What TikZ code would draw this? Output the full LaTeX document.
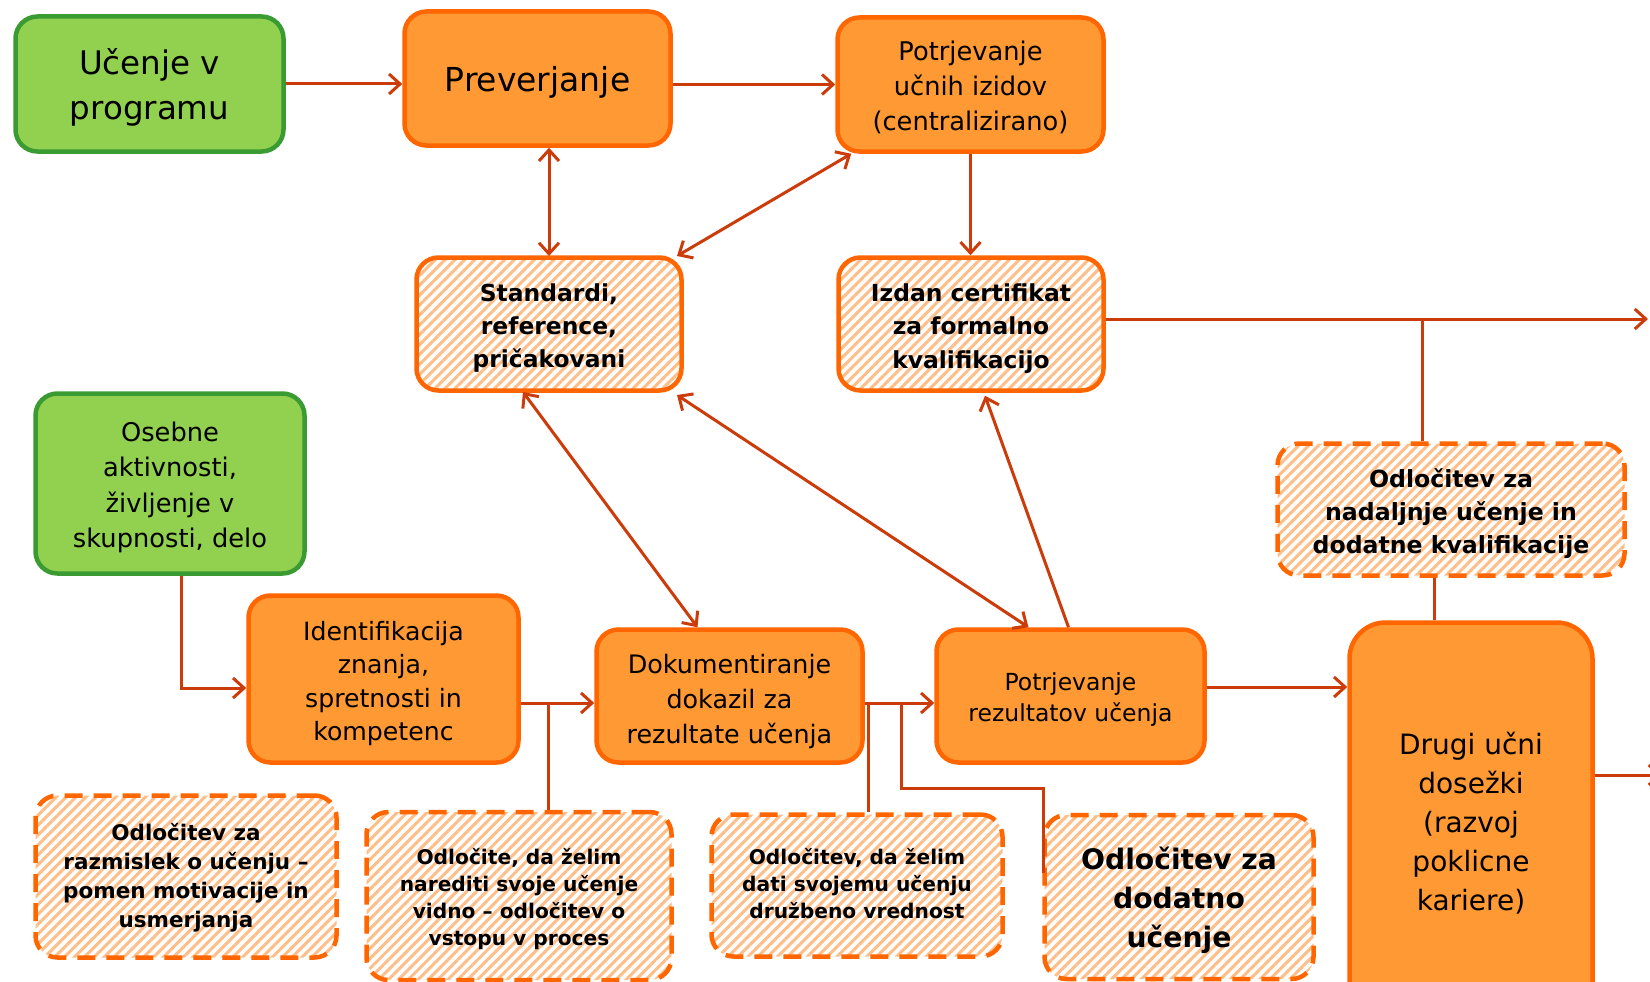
\documentclass[tikz,border=0pt]{standalone}
\usepackage{fontspec}
\setmainfont{DejaVu Sans}
\usetikzlibrary{arrows.meta,patterns.meta,calc}
\definecolor{ofill}{RGB}{255,153,51}
\definecolor{oborder}{RGB}{255,102,0}
\definecolor{gfill}{RGB}{146,208,80}
\definecolor{gborder}{RGB}{58,155,50}
\definecolor{linec}{RGB}{204,60,10}
\definecolor{hatchc}{RGB}{255,190,135}
\newcommand{\txtl}[2][4pt]{\raisebox{-#1}[\height][\depth]{\begin{tabular}{@{}c@{}}#2\end{tabular}}}
\tikzset{
  basebox/.style={line width=4.5pt, rounded corners=22pt, inner sep=0pt, align=center, text=black},
  gbox/.style={basebox, draw=gborder, fill=gfill},
  obox/.style={basebox, draw=oborder, fill=ofill},
  hbox/.style={basebox, draw=oborder, preaction={fill=white},
    pattern={Lines[angle=45,distance=7pt,line width=3pt]}, pattern color=hatchc},
  dbox/.style={hbox, dash pattern=on 18pt off 11pt},
  conn/.style={draw=linec, line width=3pt},
  tipb/.tip={Straight Barb[length=11pt,width=20pt,line width=3pt]},
  arr/.style={conn, -tipb},
  darr/.style={conn, tipb-tipb},
}
\begin{document}
\begin{tikzpicture}[x=1pt,y=-1pt]
\useasboundingbox (0,0) rectangle (1650,982);
\clip (0,0) rectangle (1650,982);

% top row
\node[gbox, minimum width=268, minimum height=135, font=\fontsize{32.5}{45}\selectfont] (ucenje) at (149.5,84) {\txtl{Učenje v\\programu}};
\node[obox, minimum width=266, minimum height=134, font=\fontsize{33}{45}\selectfont] (prever) at (537.5,78.5) {\txtl{Preverjanje}};
\node[obox, minimum width=266, minimum height=134, font=\fontsize{25.7}{35}\selectfont] (potrizid) at (970.5,84.5) {\txtl{Potrjevanje\\učnih izidov\\(centralizirano)}};

% second row
\node[hbox, minimum width=265, minimum height=133, font=\bfseries\fontsize{23.4}{33}\selectfont] (standard) at (549,324) {\txtl{Standardi,\\reference,\\pričakovani}};
\node[hbox, minimum width=265, minimum height=133, font=\bfseries\fontsize{23.4}{33.5}\selectfont] (izdan) at (971,324) {\txtl{Izdan certifikat\\za formalno\\kvalifikacijo}};

% left green
\node[gbox, minimum width=269, minimum height=180, font=\fontsize{25.7}{35.5}\selectfont] (osebne) at (170,483.5) {\txtl{Osebne\\aktivnosti,\\življenje v\\skupnosti, delo}};

% decision right
\node[dbox, minimum width=347, minimum height=132, font=\bfseries\fontsize{23.6}{33}\selectfont] (nadalj) at (1451,509.5) {\txtl{Odločitev za\\nadaljnje učenje in\\dodatne kvalifikacije}};

% process row
\node[obox, minimum width=270, minimum height=167, font=\fontsize{25.2}{33.5}\selectfont] (ident) at (383.5,679) {\txtl[5pt]{Identifikacija\\znanja,\\spretnosti in\\kompetenc}};
\node[obox, minimum width=266, minimum height=133, font=\fontsize{25.4}{35}\selectfont] (dokum) at (729.5,696) {\txtl[5pt]{Dokumentiranje\\dokazil za\\rezultate učenja}};
\node[obox, minimum width=268, minimum height=133, font=\fontsize{23.5}{31}\selectfont] (potrrez) at (1070.5,696) {\txtl{Potrjevanje\\rezultatov učenja}};
\node[obox, rounded corners=36pt, minimum width=243, minimum height=401, font=\fontsize{28}{39}\selectfont] (drugi) at (1471,823) {\txtl[2pt]{Drugi učni\\dosežki\\(razvoj\\poklicne\\kariere)}};

% bottom decisions
\node[dbox, minimum width=301, minimum height=162, font=\bfseries\fontsize{21.5}{29}\selectfont] (razmis) at (186,876.5) {\txtl[2pt]{Odločitev za\\razmislek o učenju –\\pomen motivacije in\\usmerjanja}};
\node[dbox, minimum width=305, minimum height=168, font=\bfseries\fontsize{20.2}{27}\selectfont] (odlocite) at (519,896) {\txtl{Odločite, da želim\\narediti svoje učenje\\vidno – odločitev o\\vstopu v proces}};
\node[dbox, minimum width=291, minimum height=142, font=\bfseries\fontsize{20.2}{27}\selectfont] (dati) at (857,885.5) {\txtl[1pt]{Odločitev, da želim\\dati svojemu učenju\\družbeno vrednost}};
\node[dbox, minimum width=269, minimum height=164, font=\bfseries\fontsize{28.2}{39}\selectfont] (dodatno) at (1179,897) {\txtl{Odločitev za\\dodatno\\učenje}};

% junction coordinates
\coordinate (j1) at (181,688);
\coordinate (j2) at (548,703);
\coordinate (j3) at (868,703);
\coordinate (j4) at (901,703);
\coordinate (j5) at (1043,788);
\coordinate (j6) at (1043,873);
\coordinate (j7) at (1422,319);
\coordinate (endA) at (1648,319);
\coordinate (endB) at (1662,775);

% top connectors
\draw[arr] (ucenje.east) -- (prever.west |- ucenje.east);
\draw[arr] (prever.east |- potrizid.west) -- (potrizid.west);
\draw[darr] (prever.south -| standard.north) -- (standard.north);
\draw[darr] ($(potrizid.south west)+(16,0)$) -- ($(standard.north east)+(-6,0)$);
\draw[arr] (potrizid.south) -- (potrizid.south |- izdan.north);

% diagonals
\draw[darr] ($(standard.south)+(-26,0)$) -- ($(dokum.north)+(-32,0)$);
\draw[darr] ($(standard.south east)+(-6,3)$) -- ($(potrrez.north)+(-42,0)$);
\draw[arr] ($(potrrez.north)+(-2,0)$) -- ($(izdan.south)+(14,3)$);

% left flow
\draw[arr] (osebne.south -| j1) -- (j1) -- (ident.west |- j1);
\draw[conn] ($(razmis.north)+(28,0)$) -- (razmis.north -| 214,688);
\draw[arr] (ident.east |- j2) -- (dokum.west |- j2);
\draw[conn] (j2) -- (j2 |- odlocite.north);
\draw[arr] (dokum.east |- j3) -- (potrrez.west |- j3);
\draw[conn] (j3) -- (j3 |- dati.north);
\draw[conn] (j4) |- (j5) -- (j6);
\draw[arr] ($(potrrez.east)+(0,-9)$) -- (drugi.west |- {$(potrrez.east)+(0,-9)$});

% right side
\draw[arr] (izdan.east |- j7) -- (endA);
\draw[conn] (j7) -- (j7 |- nadalj.north);
\draw[conn] ($(nadalj.south)+(-17,0)$) -- ($(drugi.north)+(-37,0)$);
\draw[arr] (drugi.east |- endB) -- (endB);
\end{tikzpicture}
\end{document}
